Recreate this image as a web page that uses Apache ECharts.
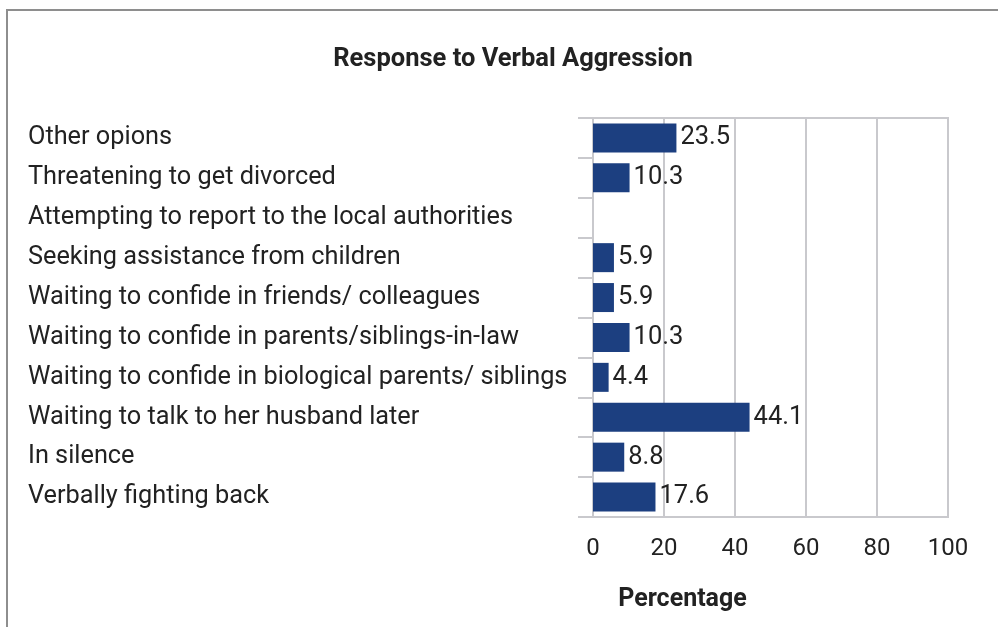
<!DOCTYPE html>
<html>
<head>
<meta charset="utf-8">
<script src="https://cdn.jsdelivr.net/npm/echarts@6/dist/echarts.min.js"></script>
<style>
  html, body { margin: 0; padding: 0; background: #ffffff; }
  #chart { width: 998px; height: 627px; }
</style>
</head>
<body>
<div id="chart"></div>
<script>
// Responses, listed top to bottom as shown
const categories = [
  'Other opions',
  'Threatening to get divorced',
  'Attempting to report to the local authorities',
  'Seeking assistance from children',
  'Waiting to confide in friends/ colleagues',
  'Waiting to confide in parents/siblings-in-law',
  'Waiting to confide in biological parents/ siblings',
  'Waiting to talk to her husband later',
  'In silence',
  'Verbally fighting back'
];
const percentages = [23.5, 10.3, 0, 5.9, 5.9, 10.3, 4.4, 44.1, 8.8, 17.6];
const percentTicks = [0, 20, 40, 60, 80, 100];

const FONT = 'Roboto, "Noto Sans", sans-serif';
const TEXT = '#222222';
const GRID = '#c9c9cd';

const chart = echarts.init(document.getElementById('chart'), null, { renderer: 'canvas' });

chart.setOption({
  animation: false,
  backgroundColor: '#ffffff',
  graphic: [{
    type: 'rect',
    shape: { x: 7, y: 10, width: 1200, height: 900 },
    style: { fill: 'none', stroke: '#8e8e8e', lineWidth: 2 },
    silent: true
  }],
  title: {
    text: 'Response to Verbal Aggression',
    left: 508,
    textAlign: 'center',
    top: 42,
    textStyle: { fontFamily: FONT, fontWeight: 'bold', fontSize: 25.5, color: TEXT }
  },
  grid: {
    left: 593,
    right: 50,
    top: 118,
    bottom: 110,
    show: true,
    borderColor: GRID,
    borderWidth: 2
  },
  xAxis: {
    type: 'value',
    min: percentTicks[0],
    max: percentTicks[percentTicks.length - 1],
    interval: percentTicks[1] - percentTicks[0],
    axisLine: { show: false },
    axisTick: { show: false },
    splitLine: { show: true, lineStyle: { color: GRID, width: 2 } },
    axisLabel: { fontFamily: FONT, fontSize: 24, color: TEXT, margin: 20 },
    name: 'Percentage',
    nameLocation: 'middle',
    nameGap: 70,
    nameTextStyle: {
      fontFamily: FONT, fontWeight: 'bold', fontSize: 25, color: TEXT,
      padding: [0, 176, 0, 0]
    }
  },
  yAxis: {
    type: 'category',
    data: categories,
    inverse: true,
    axisLine: { show: true, lineStyle: { color: GRID, width: 2 } },
    axisTick: { show: true, length: 15, lineStyle: { color: GRID, width: 2 } },
    axisLabel: {
      fontFamily: FONT, fontSize: 25.3, color: TEXT,
      align: 'left', margin: 565,
      padding: [5, 0, 0, 0]
    }
  },
  series: [{
    type: 'bar',
    data: percentages,
    barWidth: 29,
    itemStyle: { color: '#1c3f80' },
    label: {
      show: true,
      position: 'right',
      distance: 4,
      fontFamily: FONT,
      fontSize: 25.5,
      color: TEXT,
      padding: [5, 0, 0, 0],
      formatter: p => (p.value ? String(p.value) : '')
    }
  }]
});
</script>
</body>
</html>
